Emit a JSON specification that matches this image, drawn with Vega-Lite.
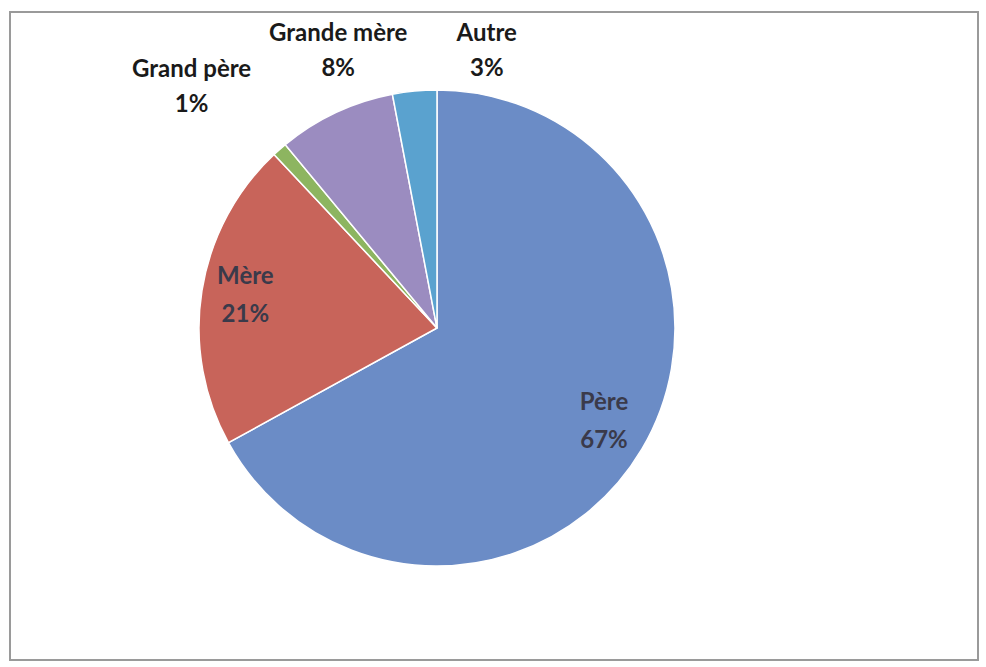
{
  "$schema": "https://vega.github.io/schema/vega-lite/v6.json",
  "width": 968,
  "height": 648,
  "autosize": {"type": "none"},
  "padding": {"left": 10, "top": 12, "right": 8, "bottom": 7},
  "background": "white",
  "config": {"view": {"stroke": null}},
  "data": {
    "values": [
      {"cat": "Père", "pct": 67, "ord": 1, "label": ["Père", "67%"]},
      {"cat": "Mère", "pct": 21, "ord": 2, "label": ["Mère", "21%"]},
      {"cat": "Grand père", "pct": 1, "ord": 3, "label": ["Grand père", "1%"]},
      {"cat": "Grande mère", "pct": 8, "ord": 4, "label": ["Grande mère", "8%"]},
      {"cat": "Autre", "pct": 3, "ord": 5, "label": ["Autre", "3%"]}
    ]
  },
  "layer": [
    {
      "mark": {"type": "rect", "fill": null, "stroke": "#9a9a9a", "strokeWidth": 1.5},
      "encoding": {}
    },
    {
      "encoding": {
        "theta": {"field": "pct", "type": "quantitative", "stack": true},
        "order": {"field": "ord", "type": "quantitative"}
      },
      "layer": [
        {
          "mark": {"type": "arc", "outerRadius": 238, "stroke": "white", "strokeWidth": 1.5,
                   "x": {"expr": "width*0.4411"}, "y": {"expr": "height*0.4877"}},
          "encoding": {
            "color": {
              "field": "cat", "type": "nominal", "legend": null,
              "scale": {
                "domain": ["Père", "Mère", "Grand père", "Grande mère", "Autre"],
                "range": ["#6b8cc6", "#c8645a", "#8db560", "#9b8cc0", "#5aa2cf"]
              }
            }
          }
        },
        {
          "mark": {"type": "text", "font": "Lato", "fontWeight": "bold", "fontSize": 24,
                   "baseline": "middle",
                   "radius": {"expr": "datum.ord <= 2 ? 194 : 300"},
                   "dx": {"expr": "datum.ord == 3 ? -47 : datum.ord == 4 ? 29 : datum.ord == 5 ? 78 : 0"},
                   "dy": {"expr": "datum.ord == 3 ? -33 : datum.ord == 4 ? -23 : datum.ord == 5 ? 5 : datum.ord == 1 ? -24 : -21"},
                   "lineHeight": {"expr": "datum.ord <= 2 ? 38 : 35"},
                   "x": {"expr": "width*0.4411"}, "y": {"expr": "height*0.4877"}},
          "encoding": {
            "text": {"field": "label"},
            "color": {"condition": {"test": "datum.ord <= 2", "value": "#3a3a4a"}, "value": "#1a1a1a"}
          }
        }
      ]
    }
  ]
}
